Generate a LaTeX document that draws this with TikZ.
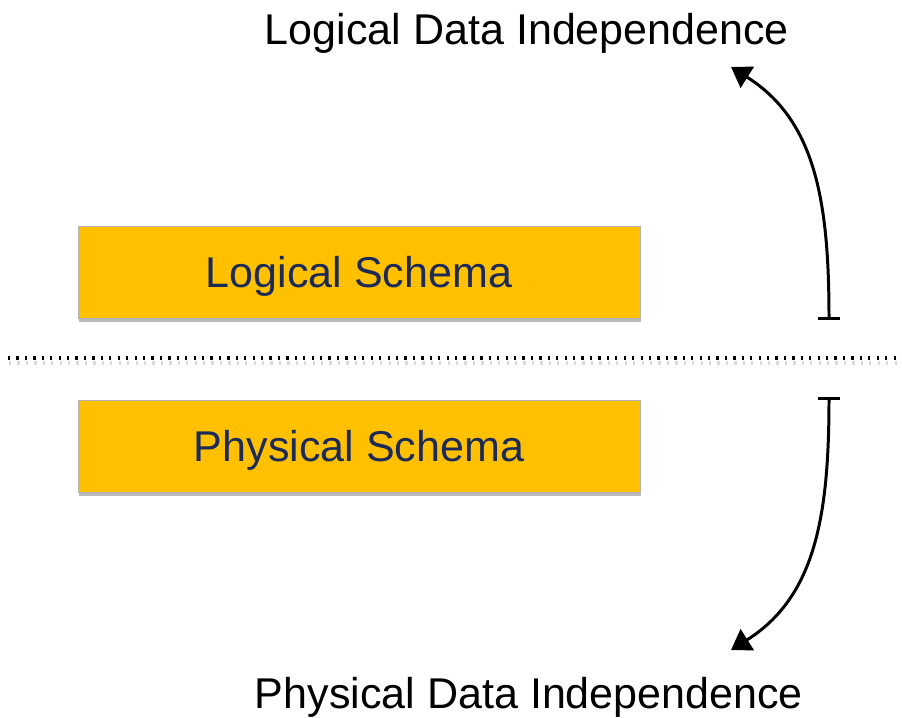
\documentclass[tikz,border=0pt]{standalone}
\usepackage{fontspec}
\setmainfont{Liberation Sans}
\usepackage{tikz}
\usetikzlibrary{arrows.meta,shadows}
\usepackage{xcolor}
\definecolor{schemaorange}{HTML}{FFC000}
\definecolor{schemanavy}{HTML}{1C2A58}

\begin{document}
\begin{tikzpicture}[x=0.02cm, y=-0.02cm,
  schema/.style={fill=schemaorange, draw=black!30, line width=0.4pt,
    minimum width=11.24cm, minimum height=1.84cm, text depth=0pt,
    text=schemanavy, font=\fontsize{24.5}{29}\selectfont,
    drop shadow={shadow xshift=0.8pt, shadow yshift=-2pt, opacity=0.45, fill=black!60}},
  indeplabel/.style={anchor=base, inner sep=0pt, font=\fontsize{24.5}{29}\selectfont},
  separator/.style={line width=2.5pt, dash pattern=on 1.3pt off 3.5pt},
  indep/.style={line width=1.7pt,
    {Bar[width=12.5pt,line width=1.7pt]}-{Triangle[width=14pt,length=11pt]}}]

\useasboundingbox (0,0) rectangle (902,717);

% Schema boxes
\node[schema] (logical) at (359,272) {Logical Schema};
\node[schema] (physical) at (359,446) {Physical Schema};

% Dotted separator
\draw[separator, black!15] (9,363) -- (902,363);
\draw[separator] (8,358) -- (902,358);

% Labels
\node[indeplabel] (logind) at (527,44) {Logical Data Independence};
\node[indeplabel] (physind) at (529,708) {Physical Data Independence};

% Arrows
\coordinate (logstart) at (829,320);
\coordinate (logend) at (731,67);
\coordinate (physstart) at (829,397);
\coordinate (physend) at (731,650);
\draw[indep] (logstart) .. controls (829,200) and (815,120) .. (logend);
\draw[indep] (physstart) .. controls (829,517) and (815,597) .. (physend);

\end{tikzpicture}
\end{document}
